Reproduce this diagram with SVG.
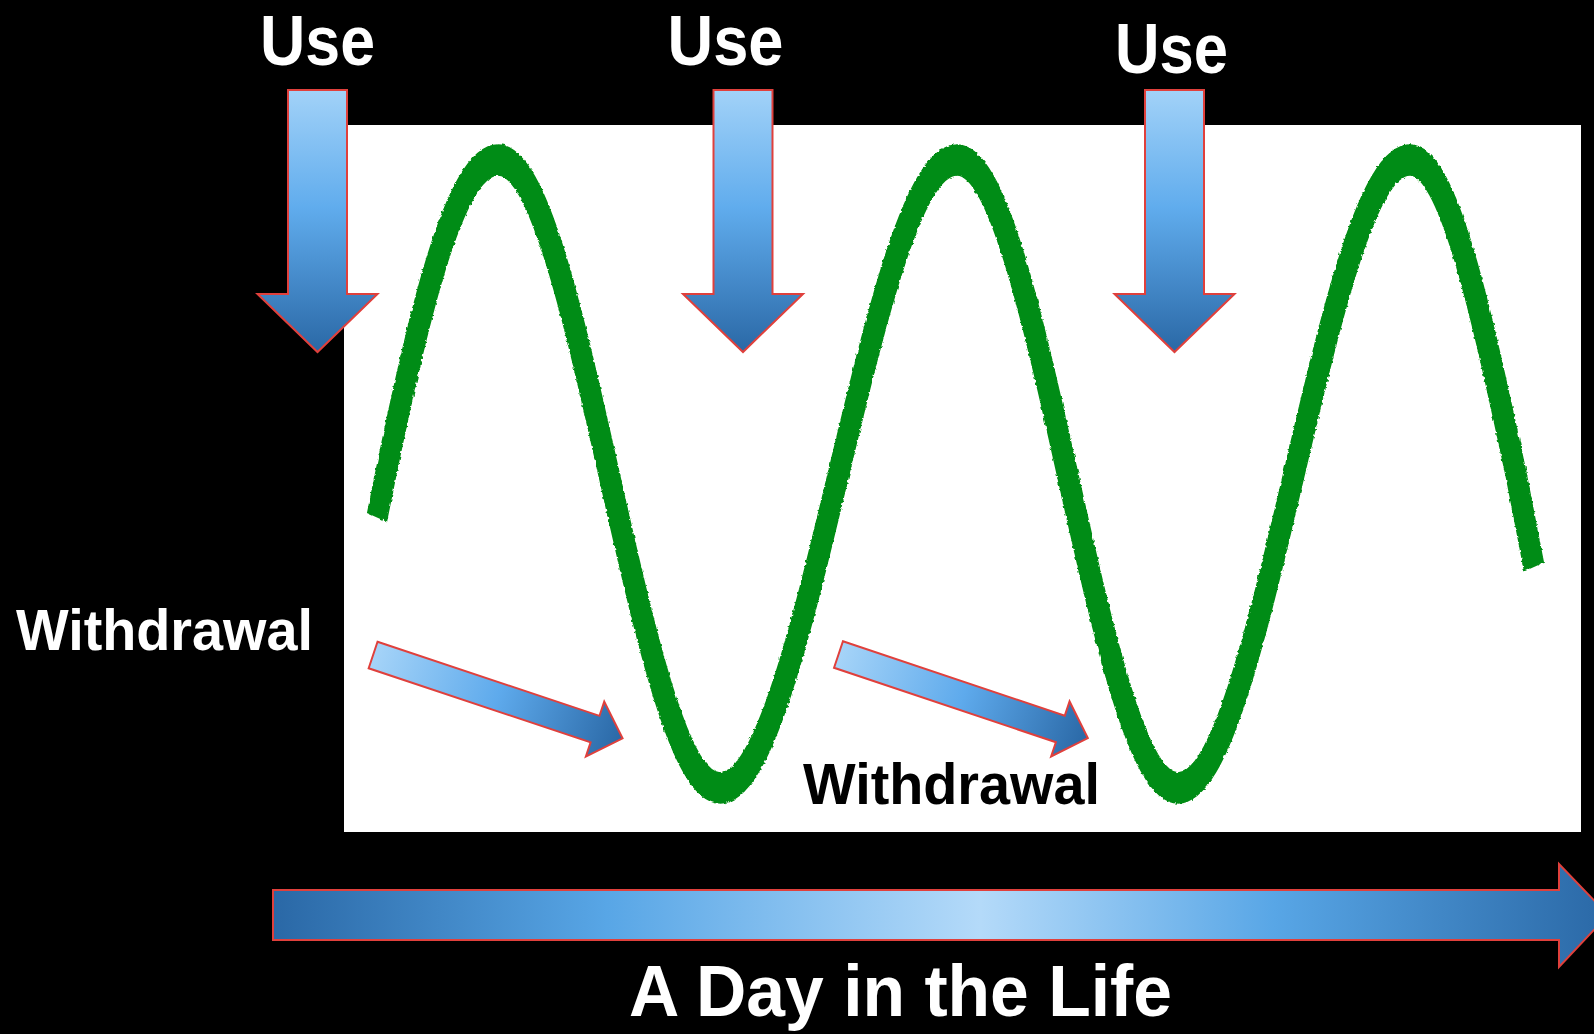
<svg xmlns="http://www.w3.org/2000/svg" width="1594" height="1034" viewBox="0 0 1594 1034">
  <style>
    .lbl { font-family: "Liberation Sans", Arial, sans-serif; font-weight: 700; }
    .white { fill: #ffffff; }
    .black { fill: #000000; }
    .arrow { stroke: #e0403c; stroke-width: 2; stroke-linejoin: miter; }
    .wave { fill: none; stroke: #008c12; stroke-width: 21; stroke-linejoin: round; }
  </style>
  <defs>
    <linearGradient id="gDown" x1="0" y1="0" x2="0" y2="1">
      <stop offset="0" stop-color="#a2d2f8"/>
      <stop offset="0.45" stop-color="#60aced"/>
      <stop offset="1" stop-color="#2a68a6"/>
    </linearGradient>
    <linearGradient id="gSide" x1="0" y1="0" x2="1" y2="0">
      <stop offset="0" stop-color="#a6d4f8"/>
      <stop offset="0.5" stop-color="#5eaaec"/>
      <stop offset="1" stop-color="#2a68a6"/>
    </linearGradient>
    <linearGradient id="gTime" gradientUnits="userSpaceOnUse" x1="273" y1="0" x2="1608" y2="0">
      <stop offset="0" stop-color="#2a68a6"/>
      <stop offset="0.25" stop-color="#58a6e6"/>
      <stop offset="0.53" stop-color="#b4daf9"/>
      <stop offset="0.75" stop-color="#58a6e6"/>
      <stop offset="1" stop-color="#2a68a6"/>
    </linearGradient>
    <filter id="rough" x="-5%" y="-5%" width="110%" height="110%">
      <feTurbulence type="fractalNoise" baseFrequency="0.35" numOctaves="1" seed="3" result="n"/>
      <feDisplacementMap in="SourceGraphic" in2="n" scale="3.5" xChannelSelector="R" yChannelSelector="G"/>
    </filter>
    <path id="downArrow" d="M-29.5,0 H29.5 V204 H60 L0,262 L-60,204 H-29.5 Z"/>
    <path id="sideArrow" d="M0,-14 H234 V-29 L263,0 L234,29 V14 H0 Z"/>
  </defs>

  <rect x="0" y="0" width="1594" height="1034" fill="#000000"/>
  <rect id="plot" x="344" y="125" width="1237" height="707" fill="#ffffff"/>

  <g id="wave" filter="url(#rough)">
    <path class="wave" transform="scale(1,1.5)" d="M377,345 C416,214 454,106.67 498,106.67 C538,106.67 571.9,206.08 609,316 C646.1,425.92 680,525.33 720,525.33 C762.7,525.33 798.9,425.92 838.5,316 C878.1,206.08 914.3,106.67 957,106.67 C996.8,106.67 1030.6,206.08 1067.5,316 C1104.4,425.92 1138.2,525.33 1178,525.33 C1219.8,525.33 1255.2,425.92 1294,316 C1332.8,206.08 1368.2,106.67 1410,106.67 C1448.2,106.67 1480.6,206.08 1516,316 L1534,378"/>
  </g>

  <g id="connectors">
    <g id="use-arrow-1"><use href="#downArrow" class="arrow" fill="url(#gDown)" transform="translate(317.5,90)"/></g>
    <g id="use-arrow-2"><use href="#downArrow" class="arrow" fill="url(#gDown)" transform="translate(743,90)"/></g>
    <g id="use-arrow-3"><use href="#downArrow" class="arrow" fill="url(#gDown)" transform="translate(1174.5,90)"/></g>
    <g id="withdrawal-arrow-1"><use href="#sideArrow" class="arrow" fill="url(#gSide)" transform="translate(373.1,655) rotate(18.47)"/></g>
    <g id="withdrawal-arrow-2"><use href="#sideArrow" class="arrow" fill="url(#gSide)" transform="translate(838.5,654.5) rotate(18.55)"/></g>
    <g id="timeline-arrow"><path class="arrow" fill="url(#gTime)" d="M273,890 H1559 V864 L1608,915 L1559,967 V940 H273 Z"/></g>
  </g>

  <g id="label-use-1"><text class="lbl white" x="317.5" y="65" font-size="70" text-anchor="middle" textLength="115" lengthAdjust="spacingAndGlyphs">Use</text></g>
  <g id="label-use-2"><text class="lbl white" x="725.5" y="65" font-size="70" text-anchor="middle" textLength="116" lengthAdjust="spacingAndGlyphs">Use</text></g>
  <g id="label-use-3"><text class="lbl white" x="1171.5" y="73" font-size="70" text-anchor="middle" textLength="113" lengthAdjust="spacingAndGlyphs">Use</text></g>
  <g id="label-withdrawal-1"><text class="lbl white" x="16" y="650" font-size="57" textLength="297" lengthAdjust="spacingAndGlyphs">Withdrawal</text></g>
  <g id="label-withdrawal-2"><text class="lbl black" x="803" y="804" font-size="57" textLength="297" lengthAdjust="spacingAndGlyphs">Withdrawal</text></g>
  <g id="label-day"><text class="lbl white" x="629" y="1016" font-size="73" textLength="543" lengthAdjust="spacingAndGlyphs">A Day in the Life</text></g>
</svg>
